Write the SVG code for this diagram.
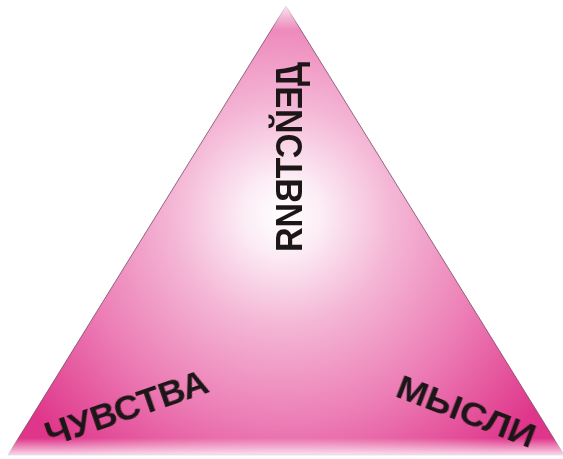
<svg xmlns="http://www.w3.org/2000/svg" width="563" height="459" viewBox="0 0 563 459">
  <defs>
    <radialGradient id="pinkGrad" gradientUnits="userSpaceOnUse" cx="283" cy="215" r="320">
      <stop offset="0" stop-color="#ffffff"/>
      <stop offset="0.12" stop-color="#fcedf5"/>
      <stop offset="0.35" stop-color="#f4b5d5"/>
      <stop offset="0.65" stop-color="#ec7db5"/>
      <stop offset="1" stop-color="#df358a"/>
    </radialGradient>
    <linearGradient id="bottomFade" x1="0" y1="0" x2="0" y2="1">
      <stop offset="0" stop-color="#ffffff" stop-opacity="0"/>
      <stop offset="1" stop-color="#ffffff" stop-opacity="1"/>
    </linearGradient>
    <linearGradient id="topFade" x1="0" y1="0" x2="0" y2="1">
      <stop offset="0" stop-color="#ffffff" stop-opacity="1"/>
      <stop offset="1" stop-color="#ffffff" stop-opacity="0"/>
    </linearGradient>
    <filter id="soft" x="-5%" y="-5%" width="110%" height="110%">
      <feGaussianBlur stdDeviation="0.5"/>
    </filter>
  </defs>
  <style>
    .lbl { font-family: "Liberation Sans", "DejaVu Sans", sans-serif; font-weight: bold; fill: #1b1418; }
  </style>
  <rect width="563" height="459" fill="#ffffff"/>
  <g id="triangle">
    <polygon points="286,6 8,455 564,455" fill="url(#pinkGrad)" stroke="#7a4a62" stroke-width="1" stroke-opacity="0.8"/>
    <rect x="0" y="438" width="563" height="21" fill="url(#bottomFade)"/>
    <rect x="240" y="0" width="90" height="30" fill="url(#topFade)"/>
  </g>
  <g id="labels" filter="url(#soft)">
    <text id="deistviya" class="lbl" font-size="37" transform="translate(302,62) rotate(90) scale(1,-1)" textLength="190" lengthAdjust="spacingAndGlyphs">ДЕЙСТВИЯ</text>
    <text id="chuvstva" class="lbl" font-size="35" transform="translate(50,447) rotate(-19)" textLength="170" lengthAdjust="spacingAndGlyphs">ЧУВСТВА</text>
    <text id="mysli" class="lbl" font-size="33" transform="translate(394,396) rotate(21)" textLength="146" lengthAdjust="spacingAndGlyphs">МЫСЛИ</text>
  </g>
</svg>
